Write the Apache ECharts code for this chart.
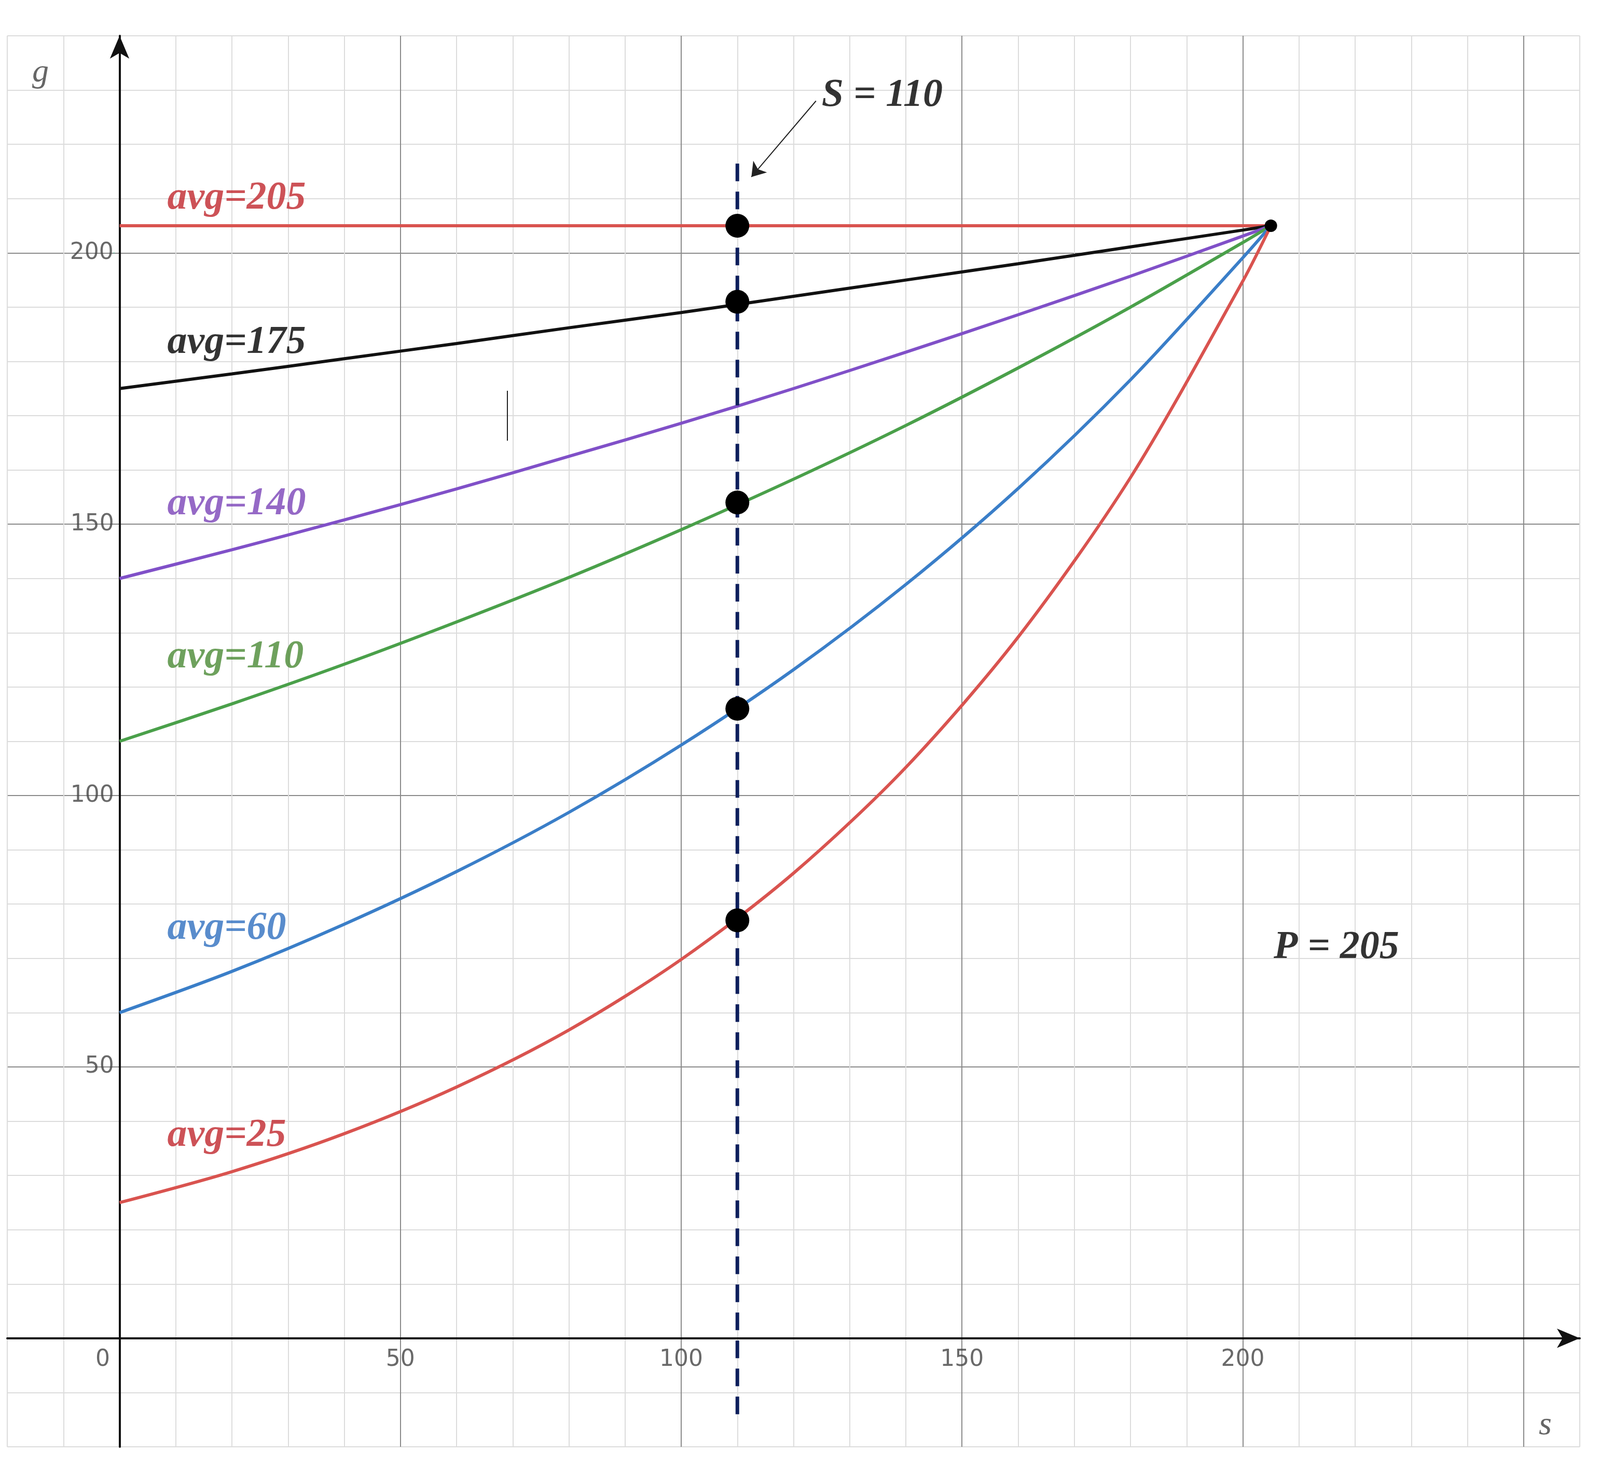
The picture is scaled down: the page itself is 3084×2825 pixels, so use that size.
<!DOCTYPE html>
<html>
<head>
<meta charset="UTF-8">
<script src="https://cdn.jsdelivr.net/npm/echarts@6/dist/echarts.min.js"></script>
<style>
  html, body { margin: 0; padding: 0; background: #fff; }
  #chart { width: 3084px; height: 2825px; }
</style>
</head>
<body>
<div id="chart"></div>
<script>
// sample positions along s
const sValues = [0, 20, 40, 60, 80, 100, 120, 140, 160, 180, 200, 205];
// curves
const avg205 = [205, 205, 205, 205, 205, 205, 205, 205, 205, 205, 205, 205];
const avg175 = [175, 177.7, 180.5, 183.3, 186.2, 189.0, 192.0, 195.0, 198.0, 201.1, 204.2, 205];
const avg140 = [140, 145.3, 150.8, 156.5, 162.5, 168.6, 175.0, 181.7, 188.6, 195.7, 203.1, 205];
const avg110 = [110, 116.9, 124.2, 132.0, 140.2, 149.0, 158.3, 168.2, 178.8, 190.0, 201.9, 205];
const avg60 = [60, 67.6, 76.3, 86.0, 96.9, 109.3, 123.2, 138.9, 156.6, 176.6, 199.1, 205];
const avg25 = [25, 30.7, 37.7, 46.3, 56.8, 69.8, 85.7, 105.2, 129.2, 158.6, 194.8, 205];
// dots on S = 110
const dotS = 110;
const dotG = [205, 191, 154, 116, 77];
// tick labels
const xTicks = [0, 50, 100, 150, 200];
const yTicks = [50, 100, 150, 200];
// label texts and positions
const labelTexts = ['avg=205', 'avg=175', 'avg=140', 'avg=110', 'avg=60', 'avg=25', 'P = 205', 'S = 110'];
const labelPos = [[8.5, 210], [8.5, 183.5], [8.5, 153.7], [8.5, 125.5], [8.5, 75.5], [8.5, 37.3], [205.5, 72], [125, 229]];
const labelColors = ['#c0272d', '#000', '#7b44b8', '#4a8a34', '#2f6fbf', '#c0272d', '#000', '#000'];

const curves = [
  [avg205, '#d9534f'], [avg175, '#111'], [avg140, '#8050c8'],
  [avg110, '#4aa04a'], [avg60, '#3a7ec8'], [avg25, '#d9534f']
];

const chart = echarts.init(document.getElementById('chart'));
const gridColors = ['#dcdcdc', '#dcdcdc', '#8a8a8a', '#dcdcdc', '#dcdcdc'];
const serif = "'Liberation Serif', 'Times New Roman', serif";

const series = curves.map(([ys, color]) => ({
  type: 'line', showSymbol: false, smooth: 0.3, z: 3,
  lineStyle: { color: color, width: 6 },
  data: sValues.map((s, i) => [s, ys[i]])
}));

series.push({
  type: 'line', showSymbol: false, z: 4,
  lineStyle: { color: '#0d1f5c', width: 7, type: [34, 20] },
  data: [[dotS, -14], [dotS, 217]],
  markLine: {
    silent: true, symbol: ['none', 'arrow'], symbolSize: 26,
    lineStyle: { color: '#222', width: 2, type: 'solid' },
    label: { show: false },
    data: [
      [{ coord: [124, 228] }, { coord: [112.5, 214] }],
      [{ coord: [69, 174.6], symbol: 'none' }, { coord: [69, 165.4], symbol: 'none' }]
    ]
  }
});

series.push({
  type: 'scatter', symbolSize: 46, z: 5,
  itemStyle: { color: '#000', opacity: 1 },
  data: dotG.map(g => [dotS, g])
});
series.push({
  type: 'scatter', symbolSize: 24, z: 5,
  itemStyle: { color: '#000', opacity: 1 },
  data: [[205, 205]]
});

series.push({
  type: 'scatter', symbolSize: 0, z: 6,
  data: labelPos.map((p, i) => ({
    value: p,
    label: {
      show: true, position: 'right', distance: 0,
      formatter: labelTexts[i], color: labelColors[i],
      fontFamily: serif, fontStyle: 'italic', fontWeight: 'bold', fontSize: 76
    }
  }))
});

// tick labels near the axes
series.push({
  type: 'scatter', symbolSize: 0, z: 6,
  data: xTicks.map(v => ({
    value: [v === 0 ? -3 : v, -4],
    label: { show: true, position: 'inside', formatter: String(v), color: '#444', fontSize: 44, fontFamily: 'DejaVu Sans' }
  })).concat(yTicks.map(v => ({
    value: [-1, v],
    label: { show: true, position: 'left', distance: 0, formatter: String(v), color: '#444', fontSize: 44, fontFamily: 'DejaVu Sans' }
  })))
});

chart.setOption({
  backgroundColor: '#fff',
  animation: false,
  grid: { left: 14, right: 39, top: 69, bottom: 37, outerBoundsMode: 'none', containLabel: false },
  xAxis: {
    type: 'value', min: -20, max: 260, interval: 10,
    axisLine: { onZero: true, symbol: ['none', 'arrow'], symbolSize: [28, 44], lineStyle: { color: '#111', width: 4 } },
    axisTick: { show: false },
    splitLine: { show: true, lineStyle: { color: gridColors, width: 2 } },
    axisLabel: { show: false }
  },
  yAxis: {
    type: 'value', min: -20, max: 240, interval: 10,
    axisLine: { onZero: true, symbol: ['none', 'arrow'], symbolSize: [28, 44], lineStyle: { color: '#111', width: 4 } },
    axisTick: { show: false },
    splitLine: { show: true, lineStyle: { color: gridColors, width: 2 } },
    axisLabel: { show: false }
  },
  graphic: [
    { type: 'text', left: 62, top: 108, style: { text: 'g', font: "italic 64px 'Liberation Serif'", fill: '#666' } },
    { type: 'text', left: 2966, top: 2715, style: { text: 's', font: "italic 64px 'Liberation Serif'", fill: '#666' } }
  ],
  series: series
});
</script>
</body>
</html>
